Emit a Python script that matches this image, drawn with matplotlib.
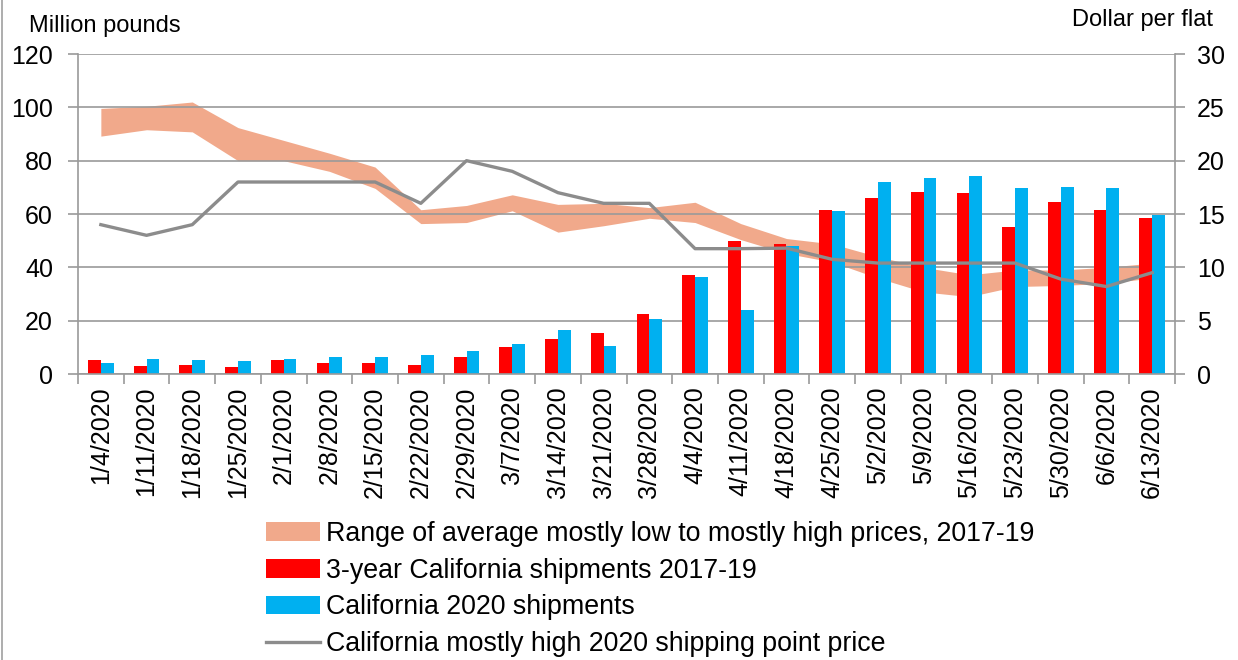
import numpy as np
import matplotlib.pyplot as plt
from matplotlib.patches import Patch
from matplotlib.lines import Line2D

plt.rcParams['font.family'] = ['Liberation Sans', 'DejaVu Sans']

weeks = ['1/4/2020', '1/11/2020', '1/18/2020', '1/25/2020', '2/1/2020', '2/8/2020',
         '2/15/2020', '2/22/2020', '2/29/2020', '3/7/2020', '3/14/2020', '3/21/2020',
         '3/28/2020', '4/4/2020', '4/11/2020', '4/18/2020', '4/25/2020', '5/2/2020',
         '5/9/2020', '5/16/2020', '5/23/2020', '5/30/2020', '6/6/2020', '6/13/2020']
# million pounds
ship_3yr = [5.25, 3.0, 3.5, 2.5, 5.25, 4.0, 4.0, 3.5, 6.2, 10.2, 13.1, 15.5,
            22.5, 37.1, 50.0, 48.6, 61.5, 66.0, 68.4, 67.9, 55.3, 64.5, 61.5, 58.6]
ship_2020 = [4.0, 5.7, 5.25, 4.75, 5.75, 6.25, 6.25, 7.25, 8.75, 11.25, 16.5, 10.6,
             20.6, 36.5, 24.0, 48.1, 61.1, 72.1, 73.6, 74.1, 69.7, 70.2, 69.7, 59.5]
# dollar per flat
price_low = [22.3, 22.9, 22.7, 20.0, 20.0, 19.0, 17.4, 14.1, 14.2, 15.3, 13.3, 13.9,
             14.6, 14.2, 12.6, 11.3, 10.5, 9.0, 7.7, 7.25, 8.2, 8.3, 8.5, 9.0]
price_high = [24.9, 25.1, 25.5, 23.1, 21.9, 20.7, 19.4, 15.4, 15.8, 16.8, 15.9, 16.0,
              15.6, 16.1, 14.1, 12.7, 12.2, 11.0, 10.0, 9.3, 9.75, 9.75, 10.0, 10.4]
price_2020 = [14, 13, 14, 18, 18, 18, 18, 16, 20, 19, 17, 16,
              16, 11.75, 11.75, 11.8, 10.75, 10.4, 10.4, 10.4, 10.4, 8.9, 8.2, 9.5]

band_c = '#F1A98B'
red_c = '#FF0000'
blue_c = '#00B0F0'
line_c = '#8C8C8C'
axis_c = '#9A9A9A'

fig = plt.figure(figsize=(12.38, 6.6), dpi=100)
rect = [78 / 1238, 1 - 374 / 660, (1175 - 78) / 1238, (374 - 54) / 660]

x = np.arange(len(weeks))
w = 0.28
xlim = (-0.5, len(weeks) - 0.5)

# band axis (behind everything, carries the gridlines)
axb = fig.add_axes(rect)
axb.fill_between(x, price_low, price_high, color=band_c, lw=0)
axb.set_xlim(*xlim)
axb.set_ylim(0, 30)
axb.set_yticks(np.arange(0, 31, 5))
axb.set_xticks([])
axb.yaxis.grid(True, color=axis_c, lw=1.2)
axb.tick_params(which='both', left=False, labelleft=False, bottom=False, labelbottom=False)
for s in axb.spines.values():
    s.set_visible(False)

# bars
ax = fig.add_axes(rect)
ax.patch.set_visible(False)
ax.bar(x - w / 2, ship_3yr, w, color=red_c)
ax.bar(x + w / 2, ship_2020, w, color=blue_c)
ax.set_ylim(0, 120)
ax.set_yticks(np.arange(0, 121, 20))
ax.set_xlim(*xlim)
ax.set_xticks(np.arange(-0.5, len(weeks), 1))
ax.set_xticklabels([])
ax.set_xticks(x, minor=True)
ax.set_xticklabels(weeks, minor=True, rotation=90, fontsize=18)
ax.tick_params(axis='x', which='major', length=7, color=axis_c, width=1.2)
ax.tick_params(axis='x', which='minor', length=0, pad=9)
ax.tick_params(axis='y', length=7, color=axis_c, width=1.2, labelsize=18, pad=11)
for s in ['top', 'right']:
    ax.spines[s].set_visible(False)
for s in ['left', 'bottom']:
    ax.spines[s].set_color(axis_c)
    ax.spines[s].set_linewidth(1.2)

# price line
axp = ax.twinx()
axp.plot(x, price_2020, color=line_c, lw=2.4)
axp.set_ylim(0, 30)
axp.set_yticks(np.arange(0, 31, 5))
axp.tick_params(axis='y', length=7, color=axis_c, width=1.2, labelsize=18, pad=9)
for s in ['top', 'left', 'bottom']:
    axp.spines[s].set_visible(False)
axp.spines['right'].set_color(axis_c)
axp.spines['right'].set_linewidth(1.2)

axb.set_zorder(0)
ax.set_zorder(1)
axp.set_zorder(2)

fig.text(105 / 1238, 1 - 26 / 660, 'Million pounds', fontsize=17, ha='center', va='center')
fig.text(1142 / 1238, 1 - 20 / 660, 'Dollar per flat', fontsize=17, ha='center', va='center')

handles = [Patch(color=band_c, lw=0),
           Patch(color=red_c, lw=0),
           Patch(color=blue_c, lw=0),
           Line2D([], [], color=line_c, lw=2.4)]
labels = ['Range of average mostly low to mostly high prices, 2017-19',
          '3-year California shipments 2017-19',
          'California 2020 shipments',
          'California mostly high 2020 shipping point price']
fig.legend(handles, labels, loc='upper left', bbox_to_anchor=(266 / 1238, 1 - 521 / 660),
           frameon=False, fontsize=19.3, handlelength=2.0, handleheight=0.7,
           handletextpad=0.25, labelspacing=0.4, borderpad=0, borderaxespad=0)

fig.add_artist(Line2D([0.0015, 0.0015], [0, 1], color='#A0A0A0', lw=1.2))

fig.savefig('out.png', dpi=100)
